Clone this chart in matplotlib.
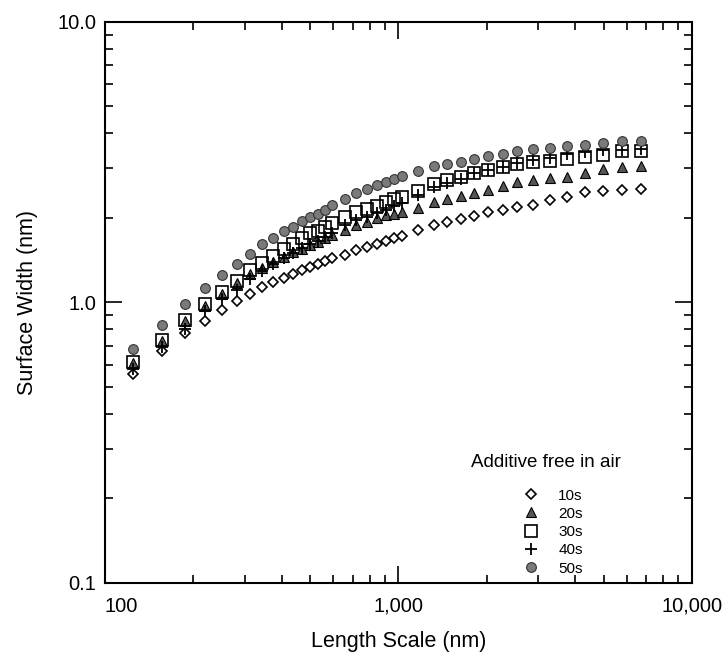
import matplotlib
matplotlib.use("Agg")
import matplotlib.pyplot as plt
from matplotlib.ticker import FixedLocator, FixedFormatter, LogLocator, NullFormatter

plt.rcParams["font.family"] = ["Liberation Sans", "DejaVu Sans"]

# length scale (nm), shared by all series
length_nm = [125, 156.25, 187.5, 218.75, 250, 281.25, 312.5, 343.75, 375, 406.25,
             437.5, 468.75, 500, 531.25, 562.5, 593.75,
             656.25, 718.75, 781.25, 843.75, 906.25, 968.75, 1031.25,
             1165, 1320, 1470, 1630, 1815, 2015, 2265, 2545, 2885, 3290,
             3740, 4325, 4990, 5785, 6725]

# surface width (nm) per exposure time
w_10s = [0.554, 0.671, 0.774, 0.858, 0.942, 1.01, 1.074, 1.13, 1.18, 1.22,
         1.265, 1.30, 1.34, 1.365, 1.40, 1.435,
         1.48, 1.53, 1.57, 1.62, 1.66, 1.70, 1.73,
         1.81, 1.88, 1.94, 1.98, 2.035, 2.09, 2.14, 2.18, 2.23, 2.32,
         2.37, 2.47, 2.50, 2.52, 2.53]
w_20s = [0.605, 0.73, 0.855, 0.97, 1.07, 1.17, 1.26, 1.33, 1.39, 1.45,
         1.51, 1.55, 1.60, 1.64, 1.69, 1.74,
         1.81, 1.88, 1.93, 1.99, 2.04, 2.07, 2.10,
         2.17, 2.27, 2.34, 2.39, 2.46, 2.52, 2.59, 2.675, 2.73, 2.77,
         2.80, 2.90, 2.98, 3.04, 3.06]
w_30s = [0.61, 0.736, 0.863, 0.984, 1.088, 1.19, 1.30, 1.385, 1.465, 1.55,
         1.62, 1.69, 1.76, 1.80, 1.85, 1.91,
         2.01, 2.10, 2.15, 2.21, 2.28, 2.34, 2.38,
         2.50, 2.63, 2.72, 2.79, 2.88, 2.97, 3.04, 3.115, 3.16, 3.20,
         3.25, 3.29, 3.36, 3.45, 3.47]
w_40s = [0.58, 0.695, 0.806, 0.93, 1.03, 1.11, 1.21, 1.29, 1.37, 1.44,
         1.50, 1.56, 1.61, 1.66, 1.71, 1.76,
         1.89, 1.96, 2.02, 2.08, 2.14, 2.20, 2.26,
         2.42, 2.57, 2.66, 2.76, 2.88, 2.97, 3.04, 3.15, 3.22, 3.28,
         3.38, 3.44, 3.48, 3.50, 3.52]
w_50s = [0.68, 0.83, 0.985, 1.12, 1.25, 1.37, 1.49, 1.61, 1.70, 1.79,
         1.86, 1.95, 2.01, 2.07, 2.14, 2.22,
         2.34, 2.46, 2.54, 2.61, 2.68, 2.74, 2.82,
         2.93, 3.05, 3.12, 3.16, 3.25, 3.33, 3.37, 3.45, 3.51, 3.55,
         3.60, 3.65, 3.71, 3.75, 3.77]

x_ticks = [100, 1000, 10000]
x_tick_labels = ["100", "1,000", "10,000"]
y_ticks = [0.1, 1.0, 10.0]
y_tick_labels = ["0.1", "1.0", "10.0"]

fig = plt.figure(figsize=(7.23, 6.60), dpi=100)
ax = fig.add_axes([0.145, 0.117, 0.812, 0.85])

ax.plot(length_nm, w_10s, linestyle="none", marker="D", markersize=5.5,
        markerfacecolor="white", markeredgecolor="black", markeredgewidth=1.2, label="10s")
ax.plot(length_nm, w_20s, linestyle="none", marker="^", markersize=7,
        markerfacecolor="#555555", markeredgecolor="black", markeredgewidth=0.8, label="20s")
ax.plot(length_nm, w_30s, linestyle="none", marker="s", markersize=8,
        markerfacecolor="none", markeredgecolor="black", markeredgewidth=1.2, label="30s")
ax.plot(length_nm, w_40s, linestyle="none", marker="+", markersize=9,
        markeredgecolor="black", markeredgewidth=1.3, label="40s")
ax.plot(length_nm, w_50s, linestyle="none", marker="o", markersize=7,
        markerfacecolor="#7a7a7a", markeredgecolor="#333333", markeredgewidth=0.8, label="50s")

ax.set_xscale("log")
ax.set_yscale("log")
ax.set_xlim(100, 10000)
ax.set_ylim(0.1, 10.0)

ax.xaxis.set_major_locator(FixedLocator(x_ticks))
ax.xaxis.set_major_formatter(FixedFormatter(x_tick_labels))
ax.yaxis.set_major_locator(FixedLocator(y_ticks))
ax.yaxis.set_major_formatter(FixedFormatter(y_tick_labels))
for axis in (ax.xaxis, ax.yaxis):
    axis.set_minor_locator(LogLocator(base=10, subs=range(2, 10)))
    axis.set_minor_formatter(NullFormatter())

ax.tick_params(which="both", direction="in", top=True, right=True,
               labelsize=14.5, width=1.2)
ax.tick_params(axis="x", pad=10)
ax.tick_params(axis="y", pad=6)
ax.tick_params(which="major", length=12)
ax.tick_params(which="minor", length=6)
for spine in ax.spines.values():
    spine.set_linewidth(1.5)

# first x label sits just right of the axis corner in the original
ax.get_xticklabels()[0].set_horizontalalignment("left")

ax.set_xlabel("Length Scale (nm)", fontsize=15.5, labelpad=11)
ax.set_ylabel("Surface Width (nm)", fontsize=15.5, labelpad=14)

# legend title drawn separately: in the original the entries sit right of centre
ax.text(0.751, 0.214, "Additive free in air", transform=ax.transAxes,
        ha="center", va="center", fontsize=13.5)
ax.legend(loc="upper left", bbox_to_anchor=(0.71, 0.168), frameon=False,
          fontsize=11, handlelength=1.2, handletextpad=1.2,
          labelspacing=0.28, borderaxespad=0, borderpad=0)

fig.savefig("out.png", dpi=100)
